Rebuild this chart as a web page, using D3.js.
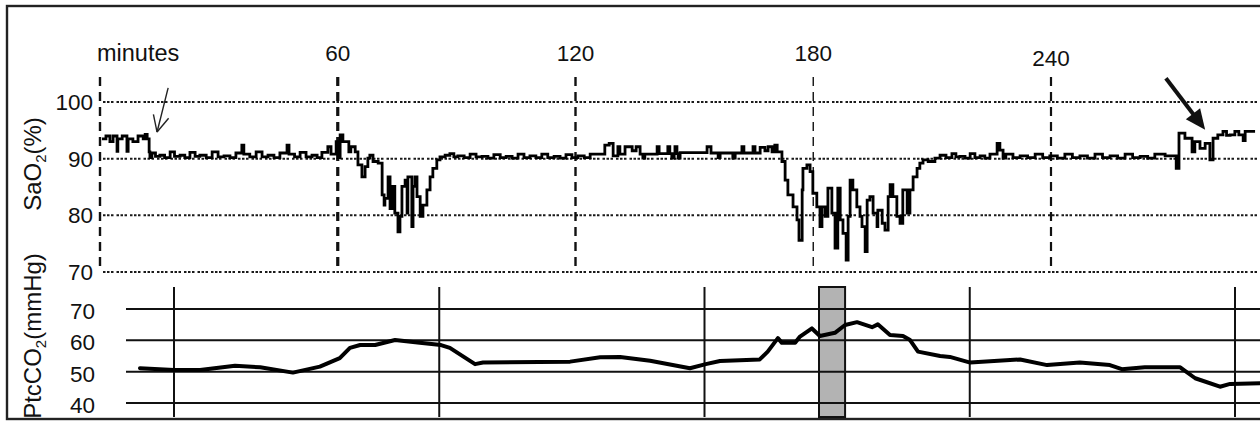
<!DOCTYPE html>
<html>
<head>
<meta charset="utf-8">
<script src="https://cdn.jsdelivr.net/npm/d3@7"></script>
<style>
  body { margin: 0; background: #fff; }
  text { font-family: "Liberation Sans", Arial, Helvetica, sans-serif; fill: #111; }
</style>
</head>
<body>
<div id="SVG_CONTAINER"></div>
<script>
// ---- data ----
// top panel: SaO2 (%) against minutes
const saoTicks = [100, 90, 80, 70];
const minuteTicks = [0, 60, 120, 180, 240];
const minuteLabels = ["minutes", "60", "120", "180", "240"];

// [minutes, SaO2 %]
const saoSeries = [
  [0.5, 93.5], [1.5, 94], [2.5, 93], [3.3, 94], [4.3, 91.3], [4.5, 93.5], [5.6, 94],
  [6.8, 91.3], [7.1, 93.5], [8.3, 93], [9.6, 94], [10.9, 93.5], [11.4, 94.3], [11.9, 93.5],
  [12.4, 91.2], [12.6, 90.2], [13.1, 91], [14.0, 90.4], [15.1, 90.6], [16.3, 90.2], [17.7, 91.2], [18.8, 90.4], [20.2, 90.6],
  [21.4, 90.2], [22.7, 91.1], [24.0, 90.4], [25.2, 90.6], [26.8, 90.2], [28.3, 91.2], [29.8, 90.3], [31.3, 90.5], [32.8, 90.2], [34.3, 91], [35.8, 92.4],
  [36.3, 90.8], [37.8, 90.3], [39.4, 91.2], [40.9, 90.3], [42.4, 90.6], [43.9, 90.2], [45.4, 91], [47.2, 92.4], [47.7, 90.8],
  [49.1, 90.3], [50.5, 91.1], [52.0, 90.3], [53.5, 90.6], [54.8, 90.2], [56.0, 91.1], [57.5, 92.1], [58.3, 90.8], [59.6, 93],
  [60.1, 90.2], [60.6, 94.2], [61.3, 93], [62.8, 91.2], [63.3, 92.1], [64.4, 91.2],
  [65.1, 88.9], [66.1, 86.8], [66.9, 88.6], [67.6, 90.1], [68.1, 90.6], [68.9, 89.5],
  [70.2, 89.2], [71.2, 83.6], [71.7, 81.8], [71.9, 83], [72.7, 86.8], [73.2, 81.2],
  [73.9, 85.1], [74.4, 80.4], [75.2, 77.1], [75.7, 79.8], [76.2, 85.1], [77.0, 86.2],
  [77.5, 80.4], [77.7, 86.8], [78.7, 78], [79.0, 85.1], [79.5, 86.8], [80.0, 83.3],
  [80.8, 79.8], [81.5, 81.8], [82.5, 84.5], [83.3, 86.8], [84.0, 88.3], [85.0, 89.8],
  [85.8, 90.3], [87.1, 90.6], [88.3, 90.9], [89.3, 90.3], [90.3, 90.5], [91.9, 90.2], [93.4, 90.8], [94.9, 90.3], [96.4, 90.4],
  [97.9, 90.1], [99.4, 90.7], [101.0, 90.2], [102.5, 90.4], [104.0, 90.1], [105.5, 90.8], [107.0, 90.2], [108.5, 90.5], [110.0, 90.2], [111.5, 90.8], [113.0, 90.2], [114.6, 90.4],
  [116.1, 90.1], [117.6, 90.7], [119.1, 90.2], [120.6, 90.5], [122.2, 90.2], [123.7, 90.8], [127.4, 92.4], [128.5, 92.7], [129.5, 90.5],
  [130.7, 92.1], [131.2, 90.8], [132.5, 92.1], [134.3, 91.4], [135.3, 92.1], [136.3, 90.8],
  [137.0, 90.1], [137.5, 90.8], [140.6, 92.1], [141.1, 90.9], [143.3, 92.1], [143.8, 90.9],
  [144.3, 90.1], [144.9, 90.9], [145.1, 92.1], [145.6, 90.9], [145.9, 90.1], [146.4, 91.05],
  [153.2, 92.1], [154.2, 91], [156.0, 90.2], [156.5, 91], [159.7, 90.1], [160.3, 91],
  [162.0, 92.1], [162.5, 91], [164.8, 92.1], [165.3, 91], [166.6, 92], [167.8, 91.4],
  [168.6, 92.1], [169.6, 91.2], [170.3, 92.4], [170.9, 91.2], [172.1, 89.5], [172.9, 86.2],
  [173.6, 83.6], [174.9, 81.5], [175.9, 79.2], [176.4, 75.6], [177.2, 84.5], [177.4, 88.3],
  [178.4, 88.9], [179.2, 87.7], [179.9, 83.9], [180.9, 81.5], [181.7, 78], [182.2, 81.5],
  [183.0, 79.8], [183.7, 84.8], [184.7, 80.4], [185.5, 74.2], [186.2, 84.8], [186.8, 79.2],
  [187.5, 76.8], [188.3, 72.1], [188.8, 79.8], [189.3, 86.2], [190.0, 84.5], [191.0, 81.5],
  [191.8, 79.8], [192.3, 78], [193.1, 73.6], [193.6, 82.7], [194.3, 83.3], [195.1, 80.4],
  [196.1, 78], [196.3, 80.9], [197.4, 78.6], [198.1, 77.4], [198.9, 83.3], [199.4, 85.4],
  [200.1, 83.3], [201.1, 79.8], [201.9, 78.6], [202.6, 84.5], [203.7, 80.4], [204.4, 84.5],
  [205.2, 86.8], [206.2, 88.3], [206.9, 89.2], [207.7, 89.8], [209.0, 89.5], [210.7, 90.1],
  [212.0, 90.6], [213.5, 90.2], [215.0, 90.9], [216.0, 90.3], [217.0, 90.4], [218.3, 90.1], [219.6, 90.9], [220.8, 90.2], [222.1, 90.5], [223.3, 90.1], [224.6, 90.8],
  [226.4, 92.7], [227.1, 91.5], [227.9, 90.1], [228.6, 90.8], [230.4, 90.2], [232.2, 90.5], [234.1, 90.2], [236.0, 90.8],
  [237.9, 90.2], [239.7, 90.5], [241.6, 90.1], [243.5, 90.8], [245.4, 90.2], [247.3, 90.5], [249.2, 90.1], [251.1, 90.8], [253.0, 90.2], [254.9, 90.5], [256.8, 90.1], [258.7, 90.8],
  [260.6, 90.2], [262.5, 90.4], [264.4, 90.1], [266.2, 90.8], [268.8, 90.5], [271.6, 88.3], [272.3, 94.5], [273.8, 93.6],
  [275.6, 91.2], [276.3, 93], [277.6, 91.8], [278.9, 92.7], [280.1, 89.8], [280.9, 93.6],
  [282.1, 94.2], [283.4, 94.8], [284.3, 94.1], [285.2, 94.2], [286.4, 94.8], [287.4, 94.2], [288.5, 93.2], [289.0, 94.8],
  [291.5, 94.8]
];

// bottom panel: PtcCO2 (mmHg)
const ptcTicks = [70, 60, 50, 40];
const ptcGridTimes = [0, 60, 120, 180, 240];
const ptcBand = [145.9, 151.8];

// [minutes on the lower strip, PtcCO2 mmHg]
const ptcSeries = [
  [-7.7, 51.1], [0, 50.5], [5.9, 50.5], [13.8, 51.9], [19.5, 51.4], [26.9, 49.7],
  [33.0, 51.6], [37.5, 54.3], [39.8, 57.6], [42.1, 58.5], [45.5, 58.5], [50.0, 60.1],
  [55.6, 59.2], [60.4, 58.5], [62.4, 57.6], [68.1, 52.4], [69.9, 52.9], [89.6, 53.2],
  [96.4, 54.6], [100.9, 54.7], [107.7, 53.5], [116.7, 51.1], [120.3, 52.4], [123.5, 53.4],
  [132.5, 53.9], [134.3, 56.4], [136.6, 60.7], [137.5, 59.2], [140.5, 59.2], [141.6, 61.2],
  [144.3, 63.8], [146.1, 61.4], [149.5, 62.4], [151.8, 64.9], [154.5, 65.8], [157.9, 64.2],
  [159.2, 65.1], [161.96, 61.7], [164.9, 61.4], [166.5, 60.1], [168.3, 56.4], [173.3, 55],
  [175.5, 54.7], [180.1, 52.9], [191.4, 53.9], [197.5, 52.1], [204.9, 52.9], [211.7, 52.1],
  [214.4, 50.8], [219.6, 51.4], [227.6, 51.4], [231, 47.9], [236.6, 45.2], [238.9, 46.1],
  [245.7, 46.3]
];

// annotation arrows [fromMinute, fromSaO2, toMinute, toSaO2, kind]
const arrows = [
  [17.2, 102.5, 14.4, 94.7, "open"],
  [269.0, 104.2, 278.9, 95.1, "filled"]
];

// ---- drawing ----
const width = 1260, height = 421;

const svg = d3.select("#SVG_CONTAINER")
  .append("svg")
  .attr("width", width)
  .attr("height", height);

// frame
svg.append("rect")
  .attr("x", 7).attr("y", 6)
  .attr("width", 1270).attr("height", 413)
  .attr("fill", "none")
  .attr("stroke", "#222")
  .attr("stroke-width", 2.4);

// scales
const xTop = d3.scaleLinear().domain([0, 240]).range([100, 1051]);
const yTop = d3.scaleLinear().domain([70, 100]).range([272, 102]);
const xBot = d3.scaleLinear().domain([0, 240]).range([174, 1235]);
const yBot = d3.scaleLinear().domain([40, 70]).range([403, 309]);

// --- top panel ---
// dotted horizontal grid
svg.selectAll(".hgrid")
  .data(saoTicks)
  .enter()
  .append("line")
  .attr("class", "hgrid")
  .attr("x1", 103).attr("x2", 1258)
  .attr("y1", d => yTop(d)).attr("y2", d => yTop(d))
  .attr("stroke", "#1a1a1a")
  .attr("stroke-width", 2)
  .attr("stroke-dasharray", "2.5,1.5,2.5,1.5,2.5,3");

// dashed verticals, each drawn a bit differently in the original
const vWidths = [2.4, 3.2, 2.4, 1.4, 2.2];
svg.selectAll(".vgrid")
  .data(minuteTicks)
  .enter()
  .append("line")
  .attr("class", "vgrid")
  .attr("x1", d => xTop(d)).attr("x2", d => xTop(d))
  .attr("y1", 77).attr("y2", 272)
  .attr("stroke", "#111")
  .attr("stroke-width", (d, i) => vWidths[i])
  .attr("stroke-dasharray", "9,6");

// minute labels
svg.selectAll(".xlab")
  .data(minuteTicks)
  .enter()
  .append("text")
  .attr("class", "xlab")
  .attr("x", (d, i) => i === 0 ? xTop(d) - 3 : xTop(d))
  .attr("y", (d, i) => i === 4 ? 66 : 61)
  .attr("text-anchor", (d, i) => i === 0 ? "start" : "middle")
  .style("font-size", (d, i) => i === 0 ? "23.5px" : "22.5px")
  .text((d, i) => minuteLabels[i]);

// SaO2 labels
svg.selectAll(".ylab")
  .data(saoTicks)
  .enter()
  .append("text")
  .attr("class", "ylab")
  .attr("x", 93)
  .attr("y", d => yTop(d))
  .attr("dy", "0.36em")
  .attr("text-anchor", "end")
  .style("font-size", "22.5px")
  .text(d => d);

// SaO2 trace
const saoLine = d3.line()
  .x(d => xTop(d[0]))
  .y(d => yTop(d[1]))
  .curve(d3.curveStepAfter);

svg.append("path")
  .datum(saoSeries)
  .attr("d", saoLine)
  .attr("fill", "none")
  .attr("stroke", "#000")
  .attr("stroke-width", 2.8)
  .attr("stroke-linejoin", "miter");

// arrows
arrows.forEach(function (a) {
  const x1 = xTop(a[0]), y1 = yTop(a[1]), x2 = xTop(a[2]), y2 = yTop(a[3]);
  const ang = Math.atan2(y2 - y1, x2 - x1);
  if (a[4] === "open") {
    svg.append("line")
      .attr("x1", x1).attr("y1", y1).attr("x2", x2).attr("y2", y2)
      .attr("stroke", "#222").attr("stroke-width", 1.4);
    [-0.45, 0.45].forEach(function (da) {
      svg.append("line")
        .attr("x1", x2).attr("y1", y2)
        .attr("x2", x2 - 18 * Math.cos(ang + da))
        .attr("y2", y2 - 18 * Math.sin(ang + da))
        .attr("stroke", "#222").attr("stroke-width", 1.4);
    });
  } else {
    const hl = 22, hw = 0.42;
    svg.append("line")
      .attr("x1", x1).attr("y1", y1)
      .attr("x2", x2 - hl * 0.8 * Math.cos(ang)).attr("y2", y2 - hl * 0.8 * Math.sin(ang))
      .attr("stroke", "#111").attr("stroke-width", 4);
    svg.append("path")
      .attr("d", "M" + x2 + "," + y2 +
        "L" + (x2 - hl * Math.cos(ang - hw)) + "," + (y2 - hl * Math.sin(ang - hw)) +
        "L" + (x2 - hl * Math.cos(ang + hw)) + "," + (y2 - hl * Math.sin(ang + hw)) + "Z")
      .attr("fill", "#111");
  }
});

// --- bottom panel ---
svg.append("rect")
  .attr("x", xBot(ptcBand[0]))
  .attr("y", 287)
  .attr("width", xBot(ptcBand[1]) - xBot(ptcBand[0]))
  .attr("height", 130)
  .attr("fill", "#b3b3b3")
  .attr("stroke", "#111")
  .attr("stroke-width", 2);

svg.selectAll(".bgrid")
  .data(ptcTicks)
  .enter()
  .append("line")
  .attr("class", "bgrid")
  .attr("x1", 126).attr("x2", 1262)
  .attr("y1", d => yBot(d)).attr("y2", d => yBot(d))
  .attr("stroke", "#111")
  .attr("stroke-width", 2);

svg.selectAll(".bvgrid")
  .data(ptcGridTimes)
  .enter()
  .append("line")
  .attr("class", "bvgrid")
  .attr("x1", d => xBot(d)).attr("x2", d => xBot(d))
  .attr("y1", 287).attr("y2", 417)
  .attr("stroke", "#111")
  .attr("stroke-width", 2);

svg.selectAll(".blab")
  .data(ptcTicks)
  .enter()
  .append("text")
  .attr("class", "blab")
  .attr("x", 95)
  .attr("y", d => yBot(d) + 2)
  .attr("dy", "0.36em")
  .attr("text-anchor", "end")
  .style("font-size", "22.5px")
  .text(d => d);

const ptcLine = d3.line()
  .x(d => xBot(d[0]))
  .y(d => yBot(d[1]));

svg.append("path")
  .datum(ptcSeries)
  .attr("d", ptcLine)
  .attr("fill", "none")
  .attr("stroke", "#000")
  .attr("stroke-width", 4)
  .attr("stroke-linejoin", "round")
  .attr("stroke-linecap", "round");

// axis titles
function axisTitle(cy, main, rest) {
  const t = svg.append("text")
    .attr("transform", "translate(41," + cy + ") rotate(-90)")
    .attr("text-anchor", "middle")
    .style("font-size", "24px");
  t.append("tspan").text(main);
  t.append("tspan").attr("dy", 5).style("font-size", "15px").text("2");
  t.append("tspan").attr("dy", -5).text(rest);
}
axisTitle(164, "SaO", "(%)");
axisTitle(336, "PtcCO", "(mmHg)");
</script>
</body>
</html>
